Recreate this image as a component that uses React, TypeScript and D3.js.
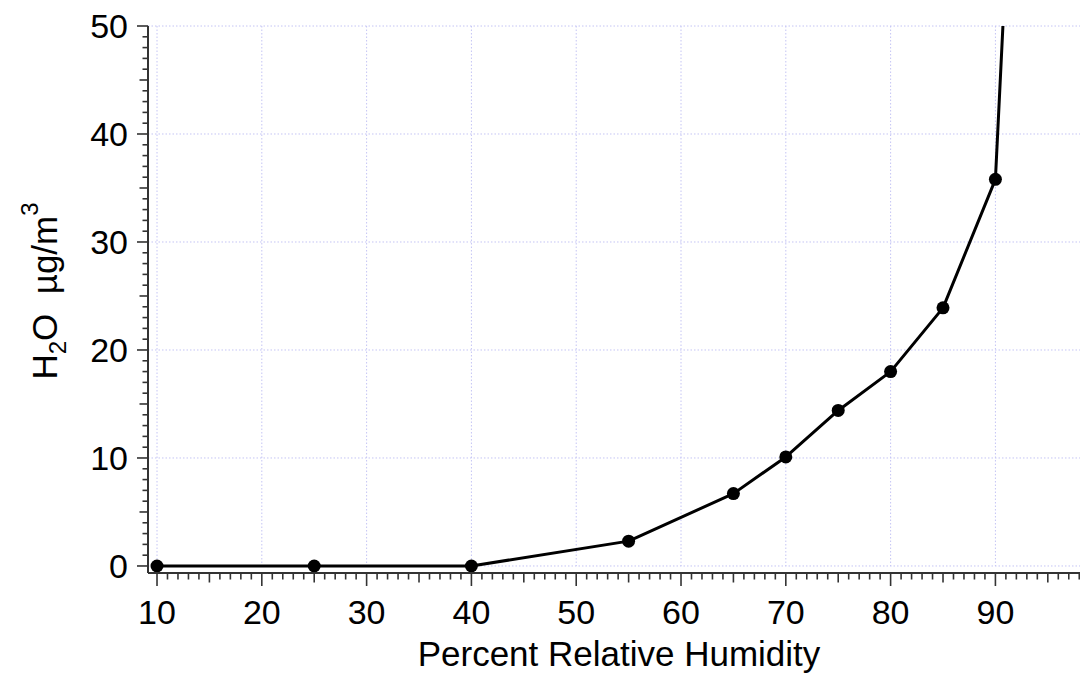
import React from "react";
import * as d3 from "d3";

const humidity = [10, 25, 40, 55, 65, 70, 75, 80, 85, 90, 95];
const water = [0, 0, 0, 2.3, 6.7, 10.1, 14.4, 18.0, 23.9, 35.8, 135];
const xTicks = [10, 20, 30, 40, 50, 60, 70, 80, 90];
const yTicks = [0, 10, 20, 30, 40, 50];

const W = 1080;
const H = 674;
const FONT = "'Liberation Sans', Arial, sans-serif";

export default function App() {
  const left = 148;
  const top = 26;
  const bottom = 573;
  const x = d3.scaleLinear().domain([9.14, 100]).range([left, left + 90.86 * 10.48]);
  const y = d3.scaleLinear().domain([-0.65, 50]).range([bottom, top]);

  const pts = humidity.map((h, i) => [h, water[i]] as [number, number]);
  const line = d3.line<[number, number]>().x((d) => x(d[0])).y((d) => y(d[1]));

  const xMinor = d3.range(10, 99, 1);
  const yMinor = d3.range(0, 51, 1);
  const axisColor = "#333";
  const grid = "#c4c4f4";

  return (
    <svg width={W} height={H} style={{ display: "block", position: "absolute", left: 0, top: 0, background: "#fff" }}>
      <defs>
        <clipPath id="plotclip">
          <rect x={left} y={top} width={W - left} height={bottom - top} />
        </clipPath>
      </defs>
      {/* grid */}
      {yTicks.map((t) => (
        <line key={"gy" + t} x1={left} x2={W} y1={y(t)} y2={y(t)} stroke={grid} strokeWidth={1} strokeDasharray="1.5,2" />
      ))}
      {xTicks.map((t) => (
        <line key={"gx" + t} x1={x(t)} x2={x(t)} y1={top} y2={y(0)} stroke={grid} strokeWidth={1} strokeDasharray="1.5,2" />
      ))}
      {/* data */}
      <g clipPath="url(#plotclip)">
        <path d={line(pts) || ""} fill="none" stroke="#000" strokeWidth={3} strokeLinejoin="round" />
        {pts.map((p, i) => (
          <circle key={i} cx={x(p[0])} cy={y(p[1])} r={6.5} fill="#000" />
        ))}
      </g>
      {/* y axis */}
      <line x1={left} x2={left} y1={top} y2={bottom} stroke={axisColor} strokeWidth={2} />
      {yMinor.map((t) => {
        const len = t % 10 === 0 ? 11 : t % 5 === 0 ? 8.5 : 5.5;
        return <line key={"yt" + t} x1={left - len} x2={left} y1={y(t)} y2={y(t)} stroke={axisColor} strokeWidth={1.6} />;
      })}
      {yTicks.map((t) => (
        <text key={"yl" + t} x={128} y={y(t)} dy="0.36em" textAnchor="end" fontFamily={FONT} fontSize={34} fill="#000">
          {t}
        </text>
      ))}
      {/* x axis */}
      <line x1={left} x2={W} y1={bottom} y2={bottom} stroke={axisColor} strokeWidth={2} />
      {xMinor.map((t) => {
        const len = t % 10 === 0 ? 13 : t % 5 === 0 ? 9.5 : 6.5;
        return <line key={"xt" + t} x1={x(t)} x2={x(t)} y1={bottom} y2={bottom + len} stroke={axisColor} strokeWidth={1.6} />;
      })}
      {xTicks.map((t) => (
        <text key={"xl" + t} x={x(t)} y={624} textAnchor="middle" fontFamily={FONT} fontSize={34} fill="#000">
          {t}
        </text>
      ))}
      {/* axis labels */}
      <text x={619} y={666} textAnchor="middle" fontFamily={FONT} fontSize={35} fill="#000">
        Percent Relative Humidity
      </text>
      <text
        transform="translate(57,291) rotate(-90)"
        textAnchor="middle"
        fontFamily={FONT}
        fontSize={35}
        fill="#000"
        style={{ whiteSpace: "pre" }}
      >
        <tspan>H</tspan>
        <tspan fontSize={24} dy={9}>2</tspan>
        <tspan dy={-9}>{"O  µg/m"}</tspan>
        <tspan fontSize={24} dy={-19}>3</tspan>
      </text>
    </svg>
  );
}
